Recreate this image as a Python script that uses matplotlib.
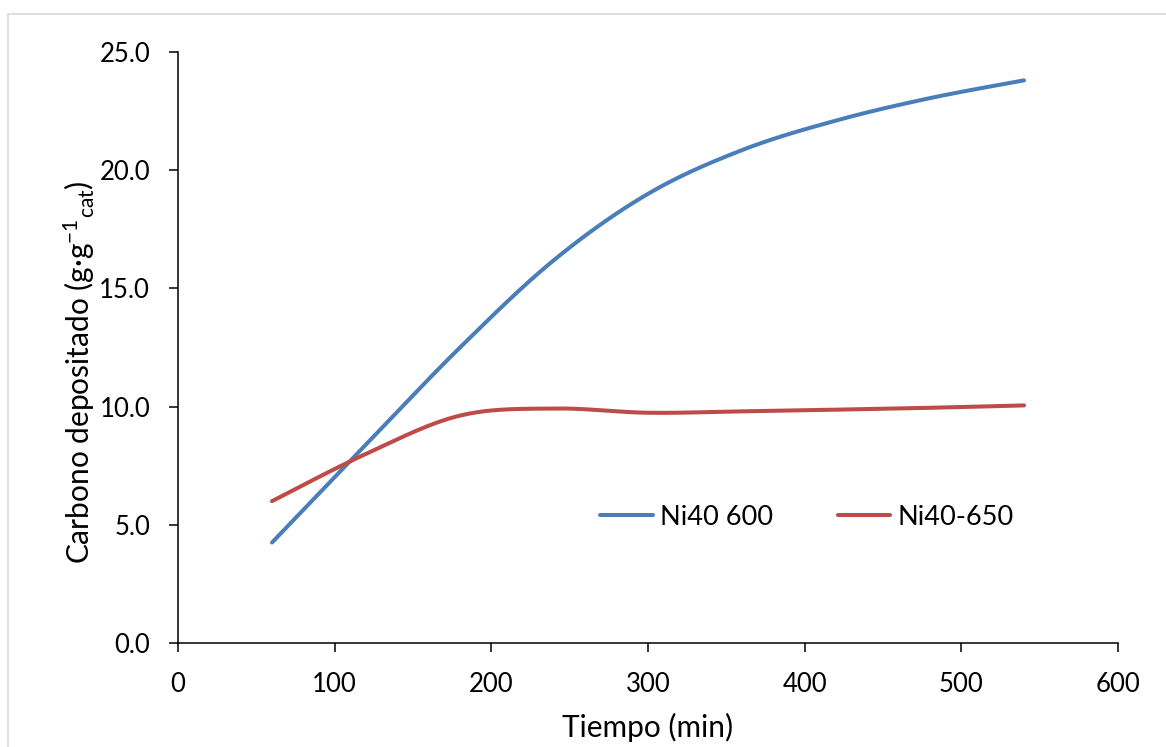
import numpy as np
import matplotlib
matplotlib.use("Agg")
import matplotlib.pyplot as plt
from matplotlib.patches import Rectangle

plt.rcParams['font.family'] = ['Lato', 'DejaVu Sans']
plt.rcParams['mathtext.fontset'] = 'custom'
plt.rcParams['mathtext.rm'] = 'Lato'
plt.rcParams['mathtext.it'] = 'Lato:italic'
plt.rcParams['mathtext.bf'] = 'Lato:bold'

# Data
tiempo = [60, 120, 180, 240, 300, 360, 420, 480, 540]
ni40_600 = [4.25, 8.4, 12.5, 16.2, 19.0, 20.85, 22.1, 23.05, 23.8]
ni40_650 = [6.0, 8.0, 9.62, 9.92, 9.74, 9.80, 9.87, 9.95, 10.05]
series_names = ["Ni40 600", "Ni40-650"]
colors = ["#4A7EBB", "#BE4B48"]
xticks = [0, 100, 200, 300, 400, 500, 600]
yticks = [0, 5, 10, 15, 20, 25]


def smooth(x, y, n=40):
    """Excel-like smoothing: cubic Bezier with Catmull-Rom control points."""
    x = np.asarray(x, float)
    y = np.asarray(y, float)
    P = np.column_stack([x, y])
    m = len(P)
    out = []
    for i in range(m - 1):
        p0 = P[i - 1] if i > 0 else P[i]
        p1 = P[i]
        p2 = P[i + 1]
        p3 = P[i + 2] if i + 2 < m else P[i + 1]
        c1 = p1 + (p2 - p0) / 6.0
        c2 = p2 - (p3 - p1) / 6.0
        t = np.linspace(0, 1, n, endpoint=(i == m - 2))[:, None]
        seg = ((1 - t) ** 3) * p1 + 3 * ((1 - t) ** 2) * t * c1 + 3 * (1 - t) * t ** 2 * c2 + t ** 3 * p2
        out.append(seg)
    S = np.vstack(out)
    return S[:, 0], S[:, 1]


fig = plt.figure(figsize=(11.66, 7.47), dpi=100)
fig.patch.set_facecolor("white")

# light chart-area border
fig.add_artist(Rectangle((8 / 1166, -0.05), 1.2, (747 - 14) / 747 + 0.05,
                         transform=fig.transFigure, fill=False,
                         edgecolor="#D9D9D9", linewidth=1.2))

ax = fig.add_axes([178 / 1166, 1 - 643 / 747, 940 / 1166, 591 / 747])

for vals, name, col in zip([ni40_600, ni40_650], series_names, colors):
    sx, sy = smooth(tiempo, vals)
    ax.plot(sx, sy, color=col, linewidth=2.9, label=name, solid_capstyle="round")

ax.set_xlim(0, 600)
ax.set_ylim(0, 25)
ax.set_xticks(xticks)
ax.set_yticks(yticks)
ax.set_xticklabels([str(v) for v in xticks])
ax.set_yticklabels([f"{v:.1f}" for v in yticks])

for s in ["top", "right"]:
    ax.spines[s].set_visible(False)
for s in ["left", "bottom"]:
    ax.spines[s].set_linewidth(1.1)
    ax.spines[s].set_color("#000000")

ax.tick_params(axis="both", direction="out", length=6.5, width=1.1,
               labelsize=18.5, colors="black")
ax.tick_params(axis="y", pad=13.5)
ax.tick_params(axis="x", pad=14.5)

ax.set_xlabel("Tiempo (min)", fontsize=21.5)
ax.xaxis.set_label_coords(0.5, -0.118)
ax.set_ylabel("Carbono depositado (g·g$^{-1}$$_{\\mathrm{cat}}$)", fontsize=21.5)
ax.yaxis.set_label_coords(-0.086, 0.458)

leg = ax.legend(loc="center left", bbox_to_anchor=(0.449, 0.213), ncol=2, frameon=False,
                fontsize=19.5, handlelength=1.95, handletextpad=0.25, columnspacing=2.4,
                borderpad=0, borderaxespad=0)

fig.savefig("out.png", dpi=100, facecolor="white")
